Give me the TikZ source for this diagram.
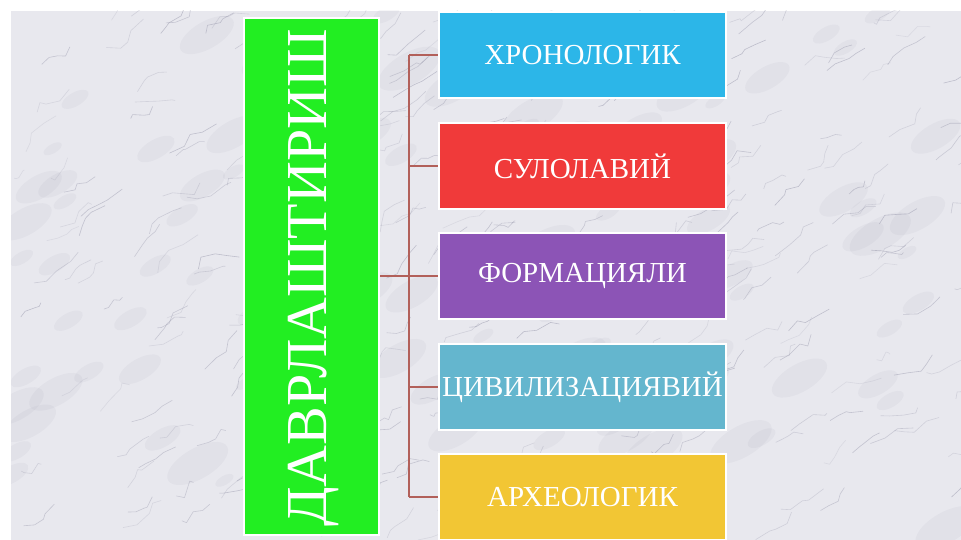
\documentclass[tikz,border=0pt]{standalone}
\usepackage{fontspec}
\setmainfont{Liberation Serif}
\definecolor{marble}{RGB}{232,232,238}
\definecolor{vein}{RGB}{135,135,158}
\definecolor{cblue}{RGB}{44,182,232}
\definecolor{cred}{RGB}{240,58,58}
\definecolor{cpurple}{RGB}{140,84,182}
\definecolor{cteal}{RGB}{100,182,206}
\definecolor{cyellow}{RGB}{242,198,52}
\definecolor{cgreen}{RGB}{34,238,34}
\definecolor{cline}{RGB}{178,96,90}
\tikzset{
  catbox/.style={draw=white, line width=2pt, minimum width=287pt, minimum height=86pt,
    inner sep=0pt, text=white, font=\fontsize{29}{31}\selectfont},
  mainbox/.style={draw=white, line width=2pt, fill=cgreen, minimum width=135pt, minimum height=517pt,
    inner sep=0pt},
  conn/.style={draw=cline, line width=1.6pt}
}
\begin{document}
\begin{tikzpicture}[x=1pt,y=-1pt]
\useasboundingbox (0,0) rectangle (961,540);
\fill[white] (0,0) rectangle (961,540);
\fill[marble] (11,11) rectangle (961,540);
\begin{scope}
\clip (11,11) rectangle (961,540);
\pgfmathsetseed{11}
\foreach \i in {1,...,110}{
  \pgfmathsetmacro{\xa}{11+950*rnd}
  \pgfmathsetmacro{\ya}{11+530*rnd}
  \pgfmathsetmacro{\r}{10+25*rnd}
  \fill[vein, opacity=0.07, rotate around={30:(\xa,\ya)}] (\xa,\ya) ellipse ({\r} and {\r*0.45});
}
\foreach \i in {1,...,260}{
  \pgfmathsetmacro{\xa}{11+950*rnd}
  \pgfmathsetmacro{\ya}{11+530*rnd}
  \pgfmathsetmacro{\xb}{\xa+8+7*rand}
  \pgfmathsetmacro{\yb}{\ya-5+7*rand}
  \pgfmathsetmacro{\xc}{\xb+8+7*rand}
  \pgfmathsetmacro{\yc}{\yb-5+7*rand}
  \pgfmathsetmacro{\xd}{\xc+8+7*rand}
  \pgfmathsetmacro{\yd}{\yc-5+7*rand}
  \pgfmathsetmacro{\xe}{\xd+8+7*rand}
  \pgfmathsetmacro{\ye}{\yd-5+7*rand}
  \pgfmathsetmacro{\op}{0.15+0.3*rnd}
  \draw[vein, opacity=\op, line width=0.6pt, line join=round]
    (\xa,\ya) -- (\xb,\yb) -- (\xc,\yc) -- (\xd,\yd) -- (\xe,\ye);
}
\end{scope}

\node[mainbox] (g) at (311.5,276.5) {};
\node[rotate=90, text=white, font=\fontsize{58}{58}\selectfont] (gt) at (314,278) {ДАВРЛАШТИРИШ};

\node[catbox, fill=cblue]   (b1) at (582.5,55)  {ХРОНОЛОГИК};
\node[catbox, fill=cred]    (b2) at (582.5,166) {СУЛОЛАВИЙ};
\node[catbox, fill=cpurple] (b3) at (582.5,276) {ФОРМАЦИЯЛИ};
\node[catbox, fill=cteal]   (b4) at (582.5,387) {ЦИВИЛИЗАЦИЯВИЙ};
\node[catbox, fill=cyellow] (b5) at (582.5,497) {АРХЕОЛОГИК};

\coordinate (s1) at (409,55);
\coordinate (s2) at (409,166);
\coordinate (s3) at (409,276);
\coordinate (s4) at (409,387);
\coordinate (s5) at (409,497);

\draw[conn] (s1) -- (s5);
\draw[conn] (g.east |- s3) -- (s3);
\foreach \k in {1,...,5}{
  \draw[conn] (s\k) -- (b\k.west);
}
\end{tikzpicture}
\end{document}
